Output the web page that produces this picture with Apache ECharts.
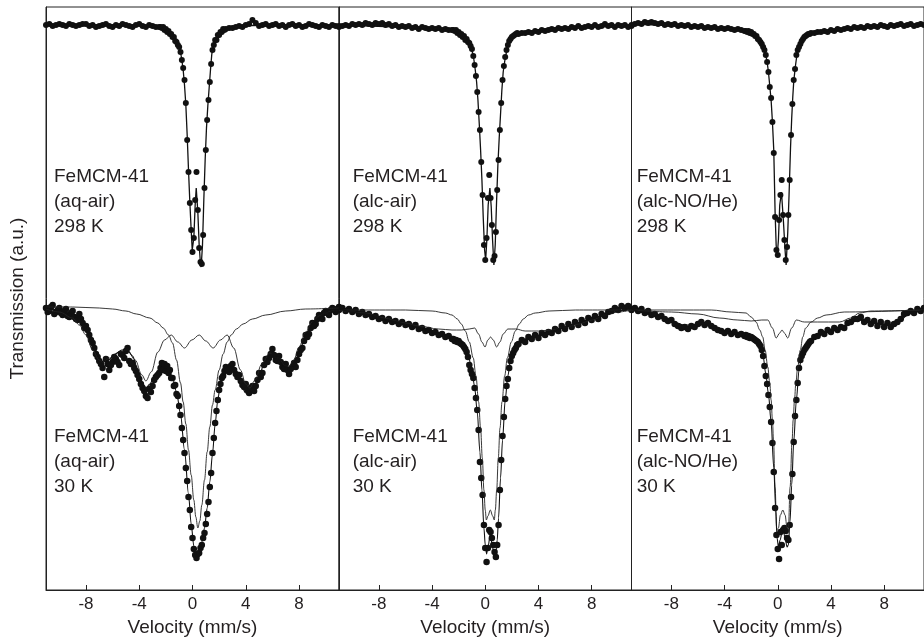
<!DOCTYPE html>
<html><head><meta charset="utf-8">
<script src="https://cdn.jsdelivr.net/npm/echarts@6/dist/echarts.min.js"></script>
<style>html,body{margin:0;padding:0;background:#fff}#c{width:924px;height:640px}</style>
</head><body><div id="c"></div>
<script>
// Velocity channels (mm/s)
const velocity = [-11,-10.75,-10.5,-10.25,-10,-9.75,-9.5,-9.25,-9,-8.75,-8.5,-8.25,-8,-7.75,-7.5,-7.25,-7,-6.75,-6.5,-6.25,-6,-5.75,-5.5,-5.25,-5,-4.75,-4.5,-4.25,-4,-3.75,-3.5,-3.25,-3,-2.75,-2.5,
-2.4,-2.3,-2.2,-2.1,-2.0,-1.9,-1.8,-1.7,-1.6,-1.5,-1.4,-1.3,-1.2,-1.1,-1.0,-0.9,-0.8,-0.7,-0.6,-0.5,-0.4,-0.3,-0.2,-0.1,0,0.1,0.2,0.3,0.4,0.5,0.6,0.7,0.8,0.9,1.0,1.1,1.2,1.3,1.4,1.5,1.6,1.7,1.8,1.9,2.0,2.1,2.2,2.3,2.4,
2.5,2.75,3,3.25,3.5,3.75,4,4.25,4.5,4.75,5,5.25,5.5,5.75,6,6.25,6.5,6.75,7,7.25,7.5,7.75,8,8.25,8.5,8.75,9,9.25,9.5,9.75,10,10.25,10.5,10.75,11];

const tickValues = [-8,-4,0,4,8];
const sampleName = 'FeMCM-41';
const treatments = ['(aq-air)','(alc-air)','(alc-NO/He)'];
const temperatures = ['298 K','30 K'];

// Transmission (a.u.) — 298 K spectra
const aqAir298 = [565,566,564,565,566,565,564,566,565,564,565,566,566,564,565,563,564,565,566,564,563,565,564,566,565,564,563,565,566,564,563,565,564,563,563,
563,562,563,560,561,558,559,556,556,553,553,549,548,545,543,538,530,522,510,487,450,418,387,360,338,352,390,418,380,342,328,326,355,402,440,470,490,508,526,540,545,550,550,555,555,558,558,561,560,
561,562,562,563,564,563,565,566,570,567,564,565,566,564,565,566,564,565,563,565,566,564,565,563,564,566,565,564,563,565,564,563,565,564,564];
const alcAir298 = [563,564,565,564,566,565,566,565,567,566,565,567,566,567,565,566,564,565,563,564,563,564,562,563,561,563,562,561,562,561,562,560,561,560,560,
560,559,560,557,558,555,556,553,554,550,551,548,547,544,541,534,525,514,498,478,460,428,395,345,330,352,392,415,392,365,330,334,358,400,430,460,487,510,524,533,540,545,549,551,553,554,555,556,557,
556,557,557,558,557,559,558,560,559,560,561,560,562,561,562,561,563,562,564,562,563,564,563,565,563,564,566,564,565,563,565,564,565,563,564];
const alcNO298 = [565,566,567,566,568,567,568,567,566,567,565,566,565,566,564,565,564,565,563,564,563,564,562,563,562,563,561,562,561,562,561,560,561,560,559,
559,558,559,557,558,556,556,554,554,551,550,548,546,543,540,535,528,518,503,492,468,437,373,340,335,370,395,410,375,350,330,343,375,410,455,486,510,521,535,540,543,546,549,551,553,554,555,556,556,
557,557,558,558,559,558,560,559,561,560,561,562,561,563,562,563,562,564,563,564,563,565,564,563,565,564,565,566,564,565,566,564,565,566,565];

// 30 K spectra
const aqAir30 = [282,279,285,278,282,275,281,273,279,271,276,267,264,255,247,236,229,222,231,220,228,231,225,235,239,229,227,219,211,202,194,201,204,213,217,
222,227,220,226,219,224,217,220,212,212,204,205,196,194,184,175,162,150,137,122,109,93,80,63,52,41,35,32,36,37,42,45,52,57,66,76,88,103,117,137,152,167,179,190,200,206,212,214,219,
223,218,226,216,215,205,206,197,204,204,217,217,231,232,241,230,234,223,226,216,223,223,236,242,255,256,267,266,275,271,279,275,282,278,283];
// additional half-step channels of the noisy aq-air 30 K spectrum [velocity, transmission]
const aqAir30Extra = [[-10.875,278],[-10.625,283],[-10.375,276],[-10.125,280],[-9.875,277],[-9.625,279],[-9.375,274],[-9.125,277],[-8.875,273],[-8.625,270],[-8.375,271],[-8.125,262],[-7.875,260],[-7.625,250],[-7.375,242],[-7.125,233],[-6.875,226],[-6.625,213],[-6.375,226],[-6.125,225],[-5.875,233],[-5.625,228],[-5.375,236],[-5.125,232],[-4.875,242],[-4.625,226],[-4.375,222],[-4.125,215],[-3.875,206],[-3.625,199],[-3.375,192],[-3.125,198],[-2.875,210],[-2.625,215],
[2.625,221],[2.875,224],[3.125,220],[3.375,213],[3.625,209],[3.875,203],[4.125,200],[4.375,202],[4.625,199],[4.875,210],[5.125,213],[5.375,225],[5.625,228],[5.875,236],[6.125,235],[6.375,229],[6.625,228],[6.875,221],[7.125,220],[7.375,221],[7.625,227],[7.875,230],[8.125,240],[8.375,249],[8.625,253],[8.875,262],[9.125,264],[9.375,271],[9.625,273],[9.875,277],[10.125,278],[10.375,280],[10.625,281],[10.875,280]];
const alcAir30 = [280,282,279,281,278,280,276,278,275,276,273,274,271,272,269,271,268,269,266,268,265,266,263,265,261,262,259,260,257,258,255,256,253,254,251,
251,249,250,248,249,247,246,245,243,241,238,233,225,220,216,212,202,192,180,160,128,112,95,65,42,28,42,60,58,52,45,38,33,45,65,100,130,154,173,191,204,211,222,229,234,237,240,242,245,
246,250,248,253,251,255,252,257,255,258,257,261,259,264,261,266,263,268,265,270,267,272,270,274,271,276,274,278,279,282,280,284,282,284,281];
const alcNO30 = [280,282,279,281,277,279,275,276,273,274,271,269,270,266,264,262,263,261,264,263,266,268,265,267,264,262,260,259,257,259,256,258,255,256,254,
255,253,254,252,253,252,251,250,249,248,246,244,240,234,224,214,206,195,183,168,147,118,82,55,41,31,58,45,60,62,59,52,50,65,93,116,148,174,190,207,222,230,234,237,240,242,244,246,248,
249,253,254,258,256,260,258,262,260,263,262,267,268,271,271,273,268,270,266,269,264,268,263,267,263,266,268,271,276,277,279,277,281,279,282];

// Fitted curves [velocity, transmission]
const aqAir298Fit = [[-11,565],[-4,565],[-3,563.5],[-2.5,563],[-2,560],[-1.5,554],[-1.2,548],[-1,543],[-0.9,538],[-0.8,530],[-0.7,520],[-0.6,505],[-0.5,485],[-0.4,455],[-0.3,420],[-0.2,388],[-0.1,360],[-0.02,340],[0.1,352],[0.2,385],[0.28,402],[0.4,378],[0.5,345],[0.6,326],[0.65,323],[0.75,345],[0.85,390],[0.95,430],[1.05,462],[1.15,484],[1.25,502],[1.35,520],[1.45,536],[1.6,546],[1.8,552],[2.1,558],[2.5,561],[3,563],[4,564.5],[11,565]];
const alcAir298Fit = [[-11,565],[-4,562],[-3,561],[-2.4,560],[-2,557],[-1.6,553],[-1.3,548],[-1.1,544],[-0.95,537],[-0.85,530],[-0.75,520],[-0.65,508],[-0.55,490],[-0.45,466],[-0.35,440],[-0.25,410],[-0.15,372],[-0.05,340],[0.03,330],[0.12,350],[0.22,385],[0.35,402],[0.45,383],[0.55,350],[0.65,325],[0.75,345],[0.85,388],[0.95,425],[1.05,452],[1.15,476],[1.25,500],[1.35,518],[1.5,532],[1.7,544],[2,552],[2.4,557],[3,558],[5,562],[11,564]];
const alcNO298Fit = [[-11,566],[-5,563],[-3,561],[-2.4,559],[-1.9,557],[-1.4,550],[-1.1,544],[-1.0,540],[-0.9,535],[-0.8,528],[-0.7,518],[-0.6,504],[-0.5,490],[-0.4,468],[-0.3,440],[-0.2,378],[-0.12,345],[-0.05,333],[0.05,350],[0.15,385],[0.28,398],[0.43,368],[0.55,340],[0.63,325],[0.75,357],[0.85,395],[0.96,442],[1.05,472],[1.13,493],[1.2,508],[1.31,522],[1.45,536],[1.6,543],[1.8,549],[2.1,554],[2.6,557],[3.5,559],[6,562],[11,565]];

const aqAir30Fit = [[-11,282],[-10,280],[-9,276],[-8.5,272],[-8,264],[-7.5,247],[-7,232],[-6.7,228],[-6.3,230],[-5.8,236],[-5.3,240],[-4.9,240],[-4.5,234],[-4.1,220],[-3.8,208],[-3.5,202],[-3.2,206],[-2.8,216],[-2.4,222],[-2.1,224],[-1.8,221],[-1.5,212],[-1.2,198],[-0.9,176],[-0.6,140],[-0.3,96],[-0.1,66],[0.1,44],[0.3,33],[0.5,36],[0.7,48],[0.9,62],[1.1,82],[1.3,108],[1.5,136],[1.7,166],[1.9,190],[2.1,207],[2.4,220],[2.8,224],[3.2,218],[3.6,206],[4.0,197],[4.3,196],[4.6,200],[5.0,213],[5.4,228],[5.9,236],[6.4,232],[6.9,224],[7.3,222],[7.7,228],[8.1,242],[8.6,258],[9.2,270],[10,277],[11,281]];
const aqAir30Singlet = [[-11,283],[-9,283],[-7,282],[-6,281],[-5,279],[-4.2,276],[-3.2,272],[-2.6,267],[-2.2,262],[-1.8,255],[-1.5,247],[-1.2,230],[-0.9,207],[-0.7,188],[-0.5,166],[-0.3,140],[-0.1,115],[0.1,90],[0.25,73],[0.4,62],[0.55,69],[0.7,85],[0.9,110],[1.1,138],[1.3,163],[1.5,185],[1.7,200],[2.0,220],[2.3,236],[2.6,248],[2.9,255],[3.3,261],[3.8,266],[4.5,271],[5.5,275],[7,279],[8.5,281],[11,282]];
const aqAir30Sextet = [[-11,281],[-10,278],[-9,272],[-8.5,265],[-8,255],[-7.5,240],[-7,230],[-6.75,228],[-6.2,232],[-5.5,238],[-4.9,240],[-4.3,230],[-3.8,215],[-3.5,209],[-3.1,218],[-2.6,238],[-2.1,250],[-1.6,255],[-1.1,248],[-0.6,242],[-0.05,250],[0.5,255],[1.0,249],[1.55,242],[2.1,250],[2.6,255],[3.1,242],[3.6,220],[4.0,206],[4.3,202],[4.7,210],[5.2,226],[5.8,237],[6.4,232],[7.0,224],[7.2,223],[7.6,230],[8.0,243],[8.5,258],[9.0,268],[9.5,274],[10,277],[10.5,279],[11,281]];

const alcAir30Fit = [[-11,281],[-9,276],[-7,269],[-5,262],[-3.5,256],[-2.5,252],[-2,249],[-1.6,244],[-1.3,236],[-1.0,220],[-0.8,203],[-0.6,178],[-0.4,138],[-0.25,100],[-0.1,62],[0.0,45],[0.1,36],[0.2,42],[0.38,56],[0.55,42],[0.7,36],[0.8,38],[0.9,50],[1.0,72],[1.15,112],[1.3,150],[1.5,190],[1.7,214],[1.9,230],[2.2,241],[2.6,248],[3.2,252],[4,255],[5,259],[6,263],[7,267],[8,271],[9,275],[10,279],[11,282]];
const alcAir30Doublet = [[-11,280],[-6,280],[-4,279],[-3,277],[-2.5,275],[-2.1,271],[-1.8,266],[-1.5,259],[-1.2,248],[-0.9,232],[-0.7,214],[-0.5,188],[-0.35,162],[-0.22,132],[-0.1,100],[0.0,80],[0.08,70],[0.2,74],[0.38,80],[0.56,74],[0.68,70],[0.76,80],[0.86,100],[0.98,132],[1.11,162],[1.26,188],[1.46,214],[1.66,232],[1.96,248],[2.26,259],[2.56,266],[2.86,271],[3.26,275],[3.76,277],[4.8,279],[6.8,280],[11,280]];
const alcAir30Minor = [[-11,280],[-9,277],[-7.7,272],[-6,267],[-5,264],[-3.5,261],[-2.5,260],[-1.8,260],[-1.2,261],[-0.8,262],[-0.5,256],[-0.25,248],[-0.02,243],[0.2,250],[0.4,253],[0.6,250],[0.86,243],[1.1,248],[1.35,256],[1.7,261],[2.3,261],[3,259],[4,259],[5,260],[6,263],[7,266],[8,270],[9,275],[10,278],[11,280]];

const alcNO30Fit = [[-11,281],[-9,274],[-7,265],[-5.5,265],[-4,259],[-3,256],[-2,252],[-1.6,249],[-1.3,243],[-1.1,234],[-0.9,216],[-0.7,196],[-0.5,168],[-0.3,122],[-0.15,80],[-0.05,52],[0.05,43],[0.18,50],[0.38,62],[0.55,52],[0.7,43],[0.8,45],[0.92,68],[1.05,105],[1.2,148],[1.4,190],[1.6,220],[1.8,234],[2.1,242],[2.5,249],[3,254],[4,259],[5,264],[6,270],[7,268],[8,266],[9,268],[10,277],[11,280]];
const alcNO30Doublet = [[-11,280],[-5,280],[-3.5,278],[-2.38,277],[-2,273],[-1.63,268],[-1.35,260],[-1.13,253],[-0.95,240],[-0.75,223],[-0.6,207],[-0.5,190],[-0.4,170],[-0.32,150],[-0.2,103],[-0.08,60],[0.05,62],[0.2,75],[0.38,80],[0.55,75],[0.7,62],[0.8,60],[0.93,103],[1.08,150],[1.16,170],[1.26,190],[1.36,207],[1.5,223],[1.7,240],[1.88,253],[2.1,262],[2.51,268],[3,272],[3.64,275],[5,278],[11,280]];
const alcNO30Minor = [[-11,280],[-8,278],[-6,276],[-4.4,272],[-3,270],[-2,269],[-1.2,270],[-0.75,270],[-0.4,262],[-0.12,252],[0.15,257],[0.32,260],[0.5,257],[0.75,252],[1.05,262],[1.4,270],[2,268],[3,268],[4.65,268],[5.5,272],[6.15,277],[7,279],[11,280]];

const panels = [
  {rt: aqAir298, rtFit: aqAir298Fit, lt: aqAir30, ltExtra: aqAir30Extra, ltFit: aqAir30Fit, comps: [aqAir30Singlet, aqAir30Sextet]},
  {rt: alcAir298, rtFit: alcAir298Fit, lt: alcAir30, ltExtra: [], ltFit: alcAir30Fit, comps: [alcAir30Doublet, alcAir30Minor]},
  {rt: alcNO298, rtFit: alcNO298Fit, lt: alcNO30, ltExtra: [], ltFit: alcNO30Fit, comps: [alcNO30Doublet, alcNO30Minor]}
];

const FONT = '"Liberation Sans", Arial, Helvetica, sans-serif';
const INK = '#231f20';
const gridLefts = [46, 339, 631.5];
const gridWidths = [293, 292.5, 292.5];
const textLefts = [54, 352.7, 636.7];

function pts(vals){ return velocity.map((v,i)=>[v, vals[i]]); }

const grids = [], xAxes = [], yAxes = [], series = [], graphics = [];
panels.forEach((p, i) => {
  grids.push({left: gridLefts[i], top: 7, width: gridWidths[i], height: 583, show: true,
    borderColor: '#222', borderWidth: 1, backgroundColor: 'transparent', containLabel: false, outerBoundsMode: 'none'});
  xAxes.push({type: 'value', gridIndex: i, min: -11, max: 11,
    axisLine: {show: true, onZero: false, lineStyle: {color: '#222', width: 1}},
    axisTick: {show: true, inside: true, length: 5, customValues: tickValues, lineStyle: {color: '#222'}},
    axisLabel: {show: true, customValues: tickValues, margin: 6, fontSize: 17, fontFamily: FONT, color: INK},
    splitLine: {show: false},
    name: 'Velocity (mm/s)', nameLocation: 'middle', nameGap: 25,
    nameTextStyle: {fontSize: 19, fontFamily: FONT, color: INK}});
  yAxes.push(Object.assign({type: 'value', gridIndex: i, min: 0, max: 583,
    axisLine: {show: true, onZero: false, lineStyle: {color: '#222'}}, axisTick: {show: false},
    axisLabel: {show: false}, splitLine: {show: false}},
    i === 0 ? {name: 'Transmission (a.u.)', nameLocation: 'middle', nameRotate: 90, nameGap: 19,
      nameTextStyle: {fontSize: 19, fontFamily: FONT, color: INK}} : {}));

  const dot = {type: 'scatter', xAxisIndex: i, yAxisIndex: i, symbol: 'circle', symbolSize: 6,
    itemStyle: {color: '#111', opacity: 1}, silent: true, z: 2};
  series.push(Object.assign({}, dot, {data: pts(p.rt)}));
  series.push(Object.assign({}, dot, {data: pts(p.lt).concat(p.ltExtra), symbolSize: 6.5}));
  series.push({type: 'line', xAxisIndex: i, yAxisIndex: i, data: p.rtFit, symbol: 'none',
    lineStyle: {color: '#111', width: 1.3}, z: 3, silent: true});
  p.comps.forEach(c => series.push({type: 'line', xAxisIndex: i, yAxisIndex: i, data: c, symbol: 'none',
    smooth: 0.35, smoothMonotone: 'x', lineStyle: {color: '#222', width: 0.9}, z: 3, silent: true}));
  series.push({type: 'line', xAxisIndex: i, yAxisIndex: i, data: p.ltFit, symbol: 'none',
    smooth: 0.3, smoothMonotone: 'x', lineStyle: {color: '#111', width: 1.1}, z: 4, silent: true});

  [164.5, 424].forEach((top, k) => graphics.push({type: 'text', left: textLefts[i], top: top, z: 10,
    style: {text: [sampleName, treatments[i], temperatures[k]].join('\n'),
      font: '19px ' + FONT, fill: INK, lineHeight: 25}}));
});

const chart = echarts.init(document.getElementById('c'), null, {renderer: 'canvas'});
chart.setOption({animation: false, backgroundColor: '#fff', grid: grids, xAxis: xAxes, yAxis: yAxes,
  series: series, graphic: graphics, tooltip: {show: false}});
</script></body></html>
